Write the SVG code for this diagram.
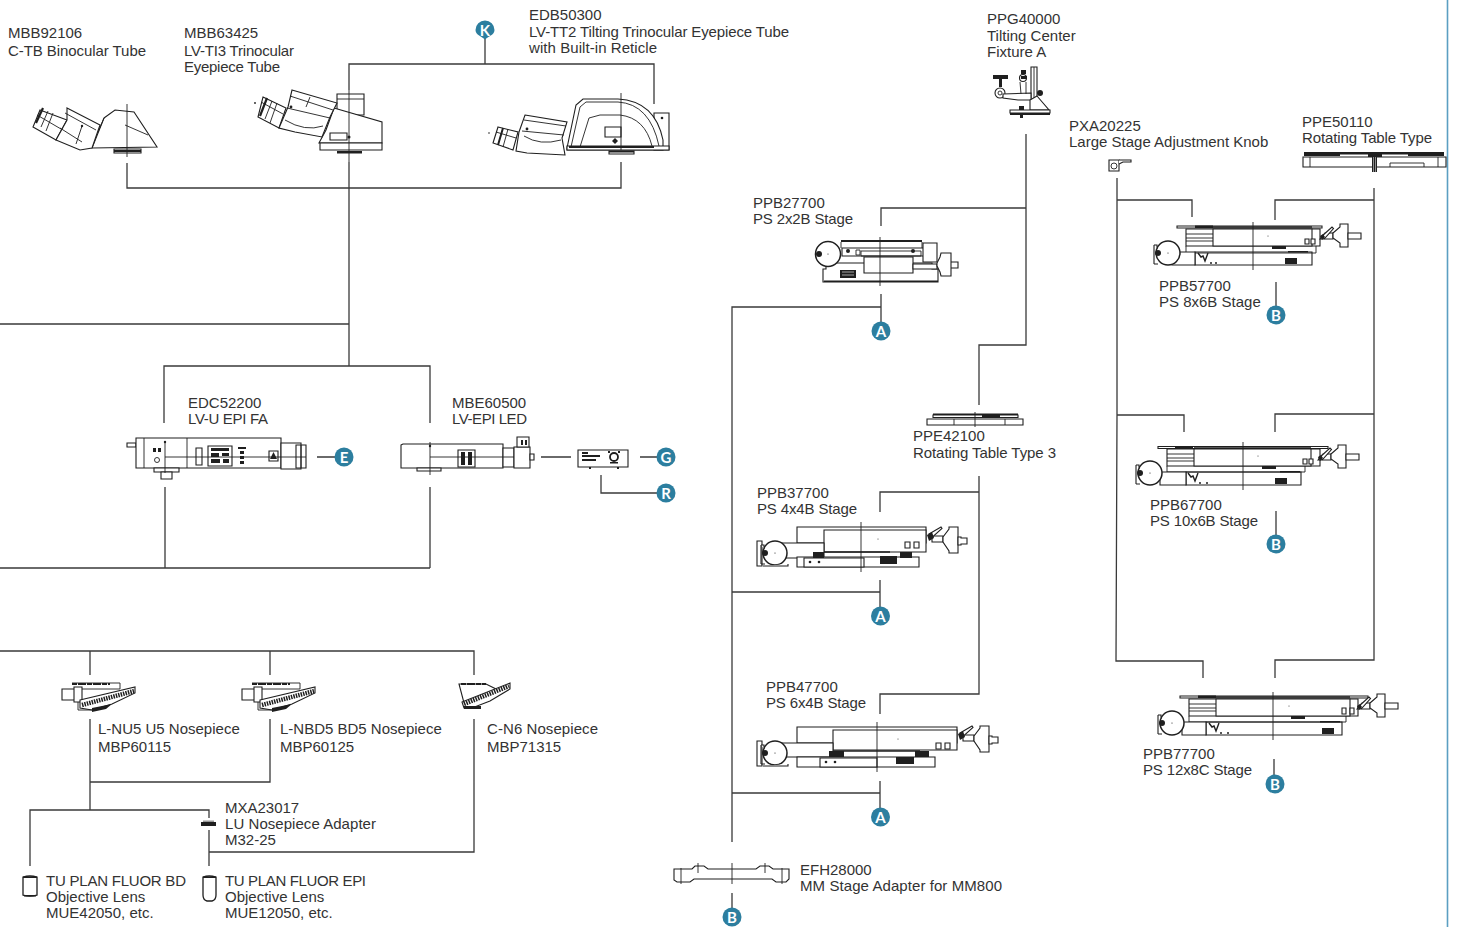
<svg xmlns="http://www.w3.org/2000/svg" width="1459" height="927" viewBox="0 0 1459 927">
<style>
text{font-family:"Liberation Sans",Arial,sans-serif;font-size:15px;fill:#333}
.c{fill:none;stroke:#3a3a3a;stroke-width:1.3}
.d{fill:#fff;stroke:#1f1f1f;stroke-width:1.100}
.l{fill:none;stroke:#1f1f1f;stroke-width:.9}
.k{fill:#1f1f1f;stroke:none}
.x{fill:none;stroke:#1f1f1f;stroke-width:.9}
.b{fill:#2c7e9f}
.bt{font-family:Lato,"Open Sans",sans-serif;font-size:15px;font-weight:700;fill:#fff;text-anchor:middle}
</style>
<defs>
<g id="roller"><circle class="d" cx="0" cy="0" r="12" style="stroke-width:1.500"/><circle class="k" cx="-10" cy="0" r="3"/><circle class="k" cx="0" cy="0" r=".6"/><path class="d" d="M-14-8h3v4M-14 11h4M-14-8V11"/></g>
<g id="knobL"><path class="d" d="M-2 6L3 0H11V6H1z"/><path class="d" d="M-1 4L10-6l1.500 1.500-9 10z"/><path class="k" d="M-2 3l3-2 2 3-3 3z"/><path class="d" d="M11 0L18-6V-9H26V14H18V10L11 5Z"/><path class="d" d="M26 0h13v6H26z"/></g>
<g id="knobS"><path class="d" d="M5 -1H16V5H5z"/><path class="d" d="M2-3L14-10l1 1.500-10 9z"/><path class="k" d="M0-2l5-3 2 6-5 3z"/><path class="d" d="M16 0L22-8V-10H31V16H22V14L16 5Z"/><path class="d" d="M31 0h3v1h6v6h-6v1h-3z"/></g>
<g id="nose"><path class="d" d="M0 3h12v11H0zM12 1h8v15H12z"/><path class="l" d="M10-3H58v6M20 3H58"/><path d="M10-2H48" stroke="#1f1f1f" stroke-width="1.800" stroke-dasharray="5 1 8 1"/><path class="d" d="M18 14L73 1V7L50 18 30 24 18 22z"/><path d="M20 19L72 5" fill="none" stroke="#1f1f1f" stroke-width="4.500" stroke-dasharray="1.500 1"/><path class="l" d="M16 16V24H30"/><path class="k" d="M30 22l20-4-6 5-14 3z"/></g>
</defs>

<g id="connectors">
<path class="c" d="M485 38V64M349 90V64H654V104"/>
<path class="c" d="M127 163V188H621V162M349 162V366M0 324H349M164 423V366H430V423"/>
<path class="c" d="M165 487V568M430 487V568M0 568H430"/>
<path class="c" d="M0 651H474V675M90 651V675M270 651V675"/>
<path class="c" d="M90 719V810M90 782H270V719M474 719V852H209M30 866V810H209V818M209 830V866"/>
<path class="c" d="M317 457H335M541 457H571M640 457H658M601 475V493H658"/>
<path class="c" d="M1026 134V345H979V405M1026 208H881V226M881 294V322M881 307H732V842"/>
<path class="c" d="M979 476V694H880V714M979 492H880V512M880 580V608M880 592H732M880 781V808M880 793H732M732 893V908"/>
<path class="c" d="M1117 178V415L1116 661H1203V678M1117 200H1192V217M1117 415H1184V432"/>
<path class="c" d="M1374 188V660H1275V678M1374 200H1275V220M1374 414H1275V432"/>
<path class="c" d="M1276 282V306M1276 511V535M1274 759V776"/>
</g>
<path d="M1447.500 0V927" fill="none" stroke="#5b9fc2" stroke-width="1.600"/>

<g id="n-mbb92106">
<path class="d" d="M104 118L115 110 134 112 157 147 92 148Z"/>
<path class="l" d="M98 132L104 118M125 125L148 135"/>
<path class="d" d="M114 149h27v4h-27z"/><path class="k" d="M114 150h27v2h-27z"/>
<path class="d" d="M40 110L67 120 56 140 33 127Z"/><path class="l" d="M37 115l24 14M48 111l-7 16M53 113l-7 18"/><path d="M43 108l-7 15" stroke="#1f1f1f" stroke-width="2.200"/>
<path class="d" d="M67 108L100 125 92 148 80 150 56 140 67 120Z"/><path class="l" d="M65 113L96 130M60 128L82 142M82 126l-6 18"/><circle class="k" cx="82" cy="126" r="1.200"/>
<path class="x" d="M127 104V157"/>
<text x="8" y="38">MBB92106</text><text x="8" y="56" textLength="138">C-TB Binocular Tube</text>
</g>

<g id="n-mbb63425">
<path class="d" d="M337 94H364V115H337z"/><path class="l" d="M337 99H364"/>
<path class="d" d="M334 108L382 122V143H319L326 130Z"/>
<path class="d" d="M320 143H382V150H320z"/>
<path class="k" d="M337 151h25v2.500h-25z"/>
<path class="d" d="M330 133h17v7h-17z"/><circle class="k" cx="349" cy="137" r="1.500"/>
<path class="d" d="M263 97L286 108 279 128 258 117Z"/><path class="l" d="M261 102L283 114M272 101l-7 18M277 103l-7 20"/><path d="M267 98l-7 18" stroke="#1f1f1f" stroke-width="2.200"/><circle class="k" cx="255" cy="103" r=".9"/>
<path class="d" d="M292 90L337 103 330 117 322 137 295 132 279 128 288 107Z"/><path class="l" d="M290 96L333 110M287 108L330 118M285 120q20 12 38 6M310 97l-4 10"/><circle class="k" cx="291" cy="107" r="1.400"/>
<path class="x" d="M349 90V162"/>
<text x="184" y="38">MBB63425</text><text x="184" y="56" textLength="110">LV-TI3 Trinocular</text><text x="184" y="72" textLength="96">Eyepiece Tube</text>
</g>

<g id="n-edb50300">
<path class="d" d="M654 113H669V150H654z"/><circle class="k" cx="662" cy="118" r="1.300"/>
<path class="d" d="M567 148L576 105 583 99H618Q655 101 663 140V150H567Z"/>
<path class="l" d="M571 147L580 107 586 102H618Q650 104 659 146M580 147L589 118 600 115H620Q645 118 652 146"/>
<path class="d" d="M567 146H669V150H567z"/><path class="k" d="M569 146h85v2h-85z"/>
<path class="d" d="M605 127h16v10h-16z"/><path class="k" d="M615 138l3 3-3 3-3-3z"/>
<path class="d" d="M609 151h25v3h-25z"/><path class="k" d="M609 151h25v1.500h-25z"/>
<path class="d" d="M498 127L518 132 513 150 493 143Z"/><path class="l" d="M496 132l20 6M508 129l-5 18"/><path d="M503 128l-5 17" stroke="#1f1f1f" stroke-width="2"/><circle class="k" cx="489" cy="133" r=".8"/>
<path class="d" d="M525 115L567 122 562 138 565 155 527 153 516 151 519 132Z"/><path class="l" d="M524 120L566 126M522 131L564 135M524 136q16 10 37 4"/><circle class="k" cx="527" cy="129" r="1.400"/>
<path class="x" d="M621 93V150"/>
<text x="529" y="20">EDB50300</text><text x="529" y="37" textLength="260">LV-TT2 Tilting Trinocular Eyepiece Tube</text><text x="529" y="53" textLength="128">with Built-in Reticle</text>
</g>

<g id="n-ppg40000">
<path class="d" d="M1031 67h6v40h-6z"/><path class="l" d="M1034 67v40"/>
<path class="k" d="M993 75h15v4h-15zM999 79h3v8h-3z"/>
<circle class="d" cx="1000" cy="93" r="5"/><circle class="l" cx="1000" cy="93" r="2"/>
<path class="d" d="M1003 94L1031 93V100H1018L1003 98Z"/>
<circle class="d" cx="1023" cy="78" r="3.500"/><path class="k" d="M1021 70h5v4h-5zM1021 76h6v3h-6z"/>
<path class="l" d="M1020 82l1 12M1026 82v12"/>
<circle class="k" cx="1040" cy="93" r="3"/>
<path class="d" d="M1037 96L1049 110H1030V100Z"/>
<path class="k" d="M1019 106h5v4h-5z"/>
<path class="d" d="M1010 110h40v3h-40z"/><path class="k" d="M1010 113h40v2h-40zM1020 113h3v5h-3z"/>
<text x="987" y="24">PPG40000</text><text x="987" y="41">Tilting Center</text><text x="987" y="57">Fixture A</text>
</g>

<g id="n-pxa20225">
<path class="d" d="M1109 160h10v11h-10z"/><circle class="l" cx="1114" cy="166" r="3"/><path class="d" d="M1119 160h12v2h-8l-4 2"/>
<text x="1069" y="131">PXA20225</text><text x="1069" y="147">Large Stage Adjustment Knob</text>
</g>

<g id="n-ppe50110">
<path class="d" d="M1303 157h143v10h-143z"/><path class="l" d="M1310 157v10M1438 157v10M1390 167v-4h34v4"/>
<path class="k" d="M1304 152h140v2.500h-140zM1304 154h36v2h-36zM1408 154h36v2h-36zM1368 154h14v3h-14z"/>
<path class="k" d="M1372 157h5v15h-5z"/><path d="M1373.500 157v15M1375.500 157v15" stroke="#fff" stroke-width=".5"/>
<text x="1302" y="127">PPE50110</text><text x="1302" y="143" textLength="130">Rotating Table Type</text>
</g>

<g id="n-ppe42100">
<path class="d" d="M927 419h96v6h-96z"/><path class="l" d="M954 419v6M1005 419v6"/>
<path class="d" d="M933 415h85v2.500h-85z"/><path class="k" d="M933 413.500h85v1.500h-85zM982 415h18v3h-18z"/>
<path class="x" d="M975 412V427"/>
<text x="913" y="441">PPE42100</text><text x="913" y="458" textLength="143">Rotating Table Type 3</text>
</g>

<g id="n-ppb27700">
<path class="d" d="M842 248H930V256H842z"/>
<path class="k" d="M841 240h81v2h-81z"/>
<path class="l" d="M841 242v6M922 242v6M856 250h4v5h-4zM861 251h60v5h-60z"/>
<path class="d" d="M923 243h14v19h-14z"/>
<path class="d" d="M823 269H826V263H932V269H938V282H823z"/>
<path class="k" d="M824 280.500h114v1.500h-114z"/>
<path class="d" d="M864 257h49v16h-49z"/><path class="d" d="M913 264h24v5h-24z"/>
<circle class="k" cx="848" cy="251" r="2"/><circle class="k" cx="913" cy="251" r="2"/>
<path class="k" d="M840 270h16v8h-16z"/><path d="M842 272h12M842 275h12" stroke="#fff" stroke-width=".6"/>
<circle class="d" cx="828" cy="254" r="12.500" style="stroke-width:1.500"/><circle class="k" cx="819" cy="254" r="3"/><circle class="k" cx="828" cy="254" r=".6"/>
<path class="d" d="M937 263l3 -6 1-4h10v23h-10l-1-4-3-6zM951 262h7v6h-7z"/>
<path class="x" d="M880 237V286"/>
<text x="753" y="208">PPB27700</text><text x="753" y="224" textLength="100">PS 2x2B Stage</text>
</g>

<g id="n-ppb37700">
<path class="d" d="M797 527H926V543H797z"/>
<path class="d" d="M824 530H926V552H824z"/>
<path class="d" d="M780 543H824V558H780z"/>
<path class="d" d="M797 557H919V567H797z"/><path class="d" d="M804 558H864V567H804z"/>
<path class="k" d="M813 552h11v6h-11zM900 552h12v6h-12zM880 556h17v8h-17z"/><path d="M824 552H890" stroke="#1f1f1f" stroke-width="1.500"/>
<path class="d" d="M905 542h5v6h-5zM914 542h5v6h-5z"/>
<circle class="k" cx="810" cy="562" r="1.300"/><circle class="k" cx="819" cy="562" r="1.300"/><circle class="k" cx="878" cy="539" r=".5"/>
<path class="d" d="M757 541h5v25h-5z"/><use href="#roller" x="775" y="553"/><path class="d" d="M763 566h25v-2"/>
<use href="#knobS" x="927" y="537"/>
<path class="x" d="M861 522V572"/>
<text x="757" y="498">PPB37700</text><text x="757" y="514" textLength="100">PS 4x4B Stage</text>
</g>

<g id="n-ppb47700">
<path class="d" d="M797 727H957V743H797z"/>
<path class="d" d="M833 730H957V750H833z"/>
<path class="d" d="M780 743H833V757H780z"/>
<path class="d" d="M797 757H935V767H797z"/><path class="d" d="M820 758H877V767H820z"/>
<path class="k" d="M829 751h15v6h-15zM915 751h14v6h-14zM896 757h18v7h-18z"/><path d="M833 751H920" stroke="#1f1f1f" stroke-width="1.500"/>
<path class="d" d="M936 743h5v6h-5zM945 743h5v6h-5z"/>
<circle class="k" cx="826" cy="762" r="1.300"/><circle class="k" cx="835" cy="762" r="1.300"/><circle class="k" cx="898" cy="739" r=".5"/>
<path class="d" d="M757 741h5v25h-5z"/><use href="#roller" x="775" y="753"/><path class="d" d="M763 766h25v-2"/>
<use href="#knobS" x="958" y="736"/>
<path class="x" d="M877 722V772"/>
<text x="766" y="692">PPB47700</text><text x="766" y="708" textLength="100">PS 6x4B Stage</text>
</g>

<g id="n-ppb57700">
<path class="d" d="M1186 229H1320V246H1186z"/><path class="d" d="M1213 229H1312V246H1213z"/>
<path class="l" d="M1186 234H1213M1186 238H1213M1186 241H1213"/>
<path class="d" d="M1177 226h145v2h-145z"/><path class="k" d="M1195 225.500h18v2.500h-18z"/><path d="M1213 227H1312" stroke="#1f1f1f" stroke-width="1.400"/>
<path class="d" d="M1195 252H1312V265H1195z"/><path d="M1186 246V253H1316V246" class="l"/>
<path class="d" d="M1172 252H1195V265H1172z"/>
<path d="M1198 253l3 4 2-1 2 5 3-8" fill="none" stroke="#1f1f1f" stroke-width="1.400"/>
<path class="k" d="M1285 258h12v6h-12zM1288 251h20v1.500h-20zM1272 246h14v3h-14z"/><circle class="k" cx="1211" cy="263" r="1"/><circle class="k" cx="1216" cy="263" r="1"/>
<path class="d" d="M1305 239h4v5h-4zM1311 239h4v5h-4z"/><circle class="k" cx="1268" cy="236" r=".5"/>
<use href="#roller" x="1168" y="253"/>
<use href="#knobL" x="1322" y="233"/>
<path class="x" d="M1253 222V270"/>
<text x="1159" y="291">PPB57700</text><text x="1159" y="307">PS 8x6B Stage</text>
</g>

<g id="n-ppb67700">
<path class="d" d="M1167 449H1320V466H1167z"/><path class="d" d="M1194 449H1311V466H1194z"/>
<path class="l" d="M1167 454H1194M1167 458H1194M1167 461H1194"/>
<path class="d" d="M1158 446.500h170v2h-170z"/><path class="k" d="M1175 446h18v2.500h-18z"/><path d="M1194 448H1311" stroke="#1f1f1f" stroke-width="1.400"/>
<path class="d" d="M1186 472H1301V485H1186z"/><path d="M1167 466V472H1305V466" class="l"/>
<path class="d" d="M1160 472H1186V485H1160z"/>
<path d="M1188 473l3 4 2-1 2 5 3-8" fill="none" stroke="#1f1f1f" stroke-width="1.400"/>
<path class="k" d="M1275 478h12v6h-12zM1280 471h20v1.500h-20zM1262 466h14v3h-14z"/><circle class="k" cx="1200" cy="483" r="1"/><circle class="k" cx="1207" cy="483" r="1"/>
<path class="d" d="M1303 459h4v5h-4zM1309 459h4v5h-4z"/><circle class="k" cx="1258" cy="456" r=".5"/>
<use href="#roller" x="1150" y="473"/>
<use href="#knobL" x="1320" y="454"/>
<path class="x" d="M1243 442V490"/>
<text x="1150" y="510">PPB67700</text><text x="1150" y="526" textLength="108">PS 10x6B Stage</text>
</g>

<g id="n-ppb77700">
<path class="d" d="M1189 699H1358V716H1189z"/><path class="d" d="M1216 699H1350V716H1216z"/>
<path class="l" d="M1189 704H1216M1189 708H1216M1189 711H1216"/>
<path class="d" d="M1180 696h188v2h-188z"/><path class="k" d="M1198 695.500h18v2.500h-18z"/><path d="M1216 697H1350" stroke="#1f1f1f" stroke-width="1.400"/>
<path class="d" d="M1206 722H1342V735H1206z"/><path d="M1189 716V722H1346V716" class="l"/>
<path class="d" d="M1182 722H1206V735H1182z"/>
<path d="M1209 723l3 4 2-1 2 5 3-8" fill="none" stroke="#1f1f1f" stroke-width="1.400"/>
<path class="k" d="M1322 728h12v6h-12zM1320 721h20v1.500h-20zM1291 716h14v3h-14z"/><circle class="k" cx="1221" cy="733" r="1"/><circle class="k" cx="1228" cy="733" r="1"/>
<path class="d" d="M1342 708h4v6h-4zM1350 708h4v6h-4z"/><circle class="k" cx="1289" cy="706" r=".5"/>
<use href="#roller" x="1172" y="723"/>
<use href="#knobL" x="1359" y="703"/>
<path class="x" d="M1273 692V740"/>
<text x="1143" y="759">PPB77700</text><text x="1143" y="775" textLength="109">PS 12x8C Stage</text>
</g>

<g id="n-efh28000">
<path class="d" d="M674 869H692L695 866H704L708 869H756L760 866H769L773 869H789V879L786 882H776L772 879H694L690 882H677L674 880Z"/>
<path class="x" d="M698 863V873M765 863V873M732 863V884M681 868V884M782 868V884"/>
<text x="800" y="875">EFH28000</text><text x="800" y="891" textLength="202">MM Stage Adapter for MM800</text>
</g>

<g id="n-edc52200">
<path class="d" d="M127 443h9v4h-9z"/>
<path class="d" d="M136 438H281V468H136z"/><path class="l" d="M144 438V468M187 438V468"/>
<path class="d" d="M281 443H301V469H281z"/><path class="d" d="M296 445H306V468H296z"/><path d="M301 445V468" stroke="#1f1f1f" stroke-width="1.500"/>
<path class="d" d="M154 468H179V472H154z"/><path class="d" d="M161 472H172V479H161z"/>
<path class="d" d="M208 446H232V466H208z"/><path class="k" d="M211 448h18v3h-18zM211 453h8v4h-8zM222 453h7v3h-7zM211 459h9v4h-9zM223 459h6v4h-6z"/>
<path class="d" d="M196 448h6v17h-6z"/>
<path class="k" d="M238 447h8v2h-8zM240 451h4v3h-4zM240 456h4v3h-4zM240 461h4v3h-4zM153 448h3v4h-3zM158 448h3v4h-3z"/>
<circle class="l" cx="157" cy="460" r="2.500"/>
<path class="d" d="M269 451h9v10h-9z"/><path class="k" d="M273.500 452l3.500 7h-7z"/>
<path class="x" d="M165 442V473M165 457H306"/><circle class="k" cx="165" cy="442" r="1.200"/>
<text x="188" y="408">EDC52200</text><text x="188" y="424" textLength="80">LV-U EPI FA</text>
</g>

<g id="n-mbe60500">
<path class="d" d="M401 445L403 444H503V468H401z"/>
<path class="d" d="M417 468H441V471H417z"/>
<path class="d" d="M503 448H514V467H503z"/><path class="d" d="M514 447H530V468H514z"/><path class="d" d="M517 437H529V447H517z"/><path class="k" d="M521 440h2v5h-2zM525 440h2v5h-2z"/><path class="d" d="M530 454h4v6h-4z"/>
<path class="d" d="M458 450H475V467H458z"/><path class="k" d="M461 452h4v13h-4zM468 452h4v13h-4z"/>
<path class="x" d="M430 442V475M430 457H514"/><circle class="k" cx="430" cy="446" r="1.200"/>
<text x="452" y="408">MBE60500</text><text x="452" y="424" textLength="75">LV-EPI LED</text>
</g>

<g id="n-mbe-controller">
<path class="d" d="M578 450H628V467H578z"/>
<path class="k" d="M582 452h6v2h-6zM582 455h18v2h-18zM582 459h14v2h-14zM589 467h2v2h-2zM617 467h2v2h-2z"/>
<circle fill="#fff" stroke="#1f1f1f" stroke-width="1.800" cx="614" cy="457" r="4"/><path class="k" d="M608 451h2v2h-2zM618 451h2v2h-2zM610 462h8v1.500h-8z"/>
</g>

<g id="n-nose1"><use href="#nose" x="62" y="686"/>
<text x="98" y="734">L-NU5 U5 Nosepiece</text><text x="98" y="752">MBP60115</text></g>
<g id="n-nose2"><use href="#nose" x="242" y="686"/>
<text x="280" y="734">L-NBD5 BD5 Nosepiece</text><text x="280" y="752">MBP60125</text></g>
<g id="n-nose3">
<path class="d" d="M459 684H486L498 690 470 700 464 703Z"/><path d="M461 684H486" stroke="#1f1f1f" stroke-width="1.800" stroke-dasharray="5 1 8 1"/>
<path class="d" d="M462 702L510 683V689L490 701 472 708H464Z"/><path d="M464 704L509 686" fill="none" stroke="#1f1f1f" stroke-width="4.500" stroke-dasharray="1.500 1"/><path class="k" d="M464 706h17v3h-17z"/>
<text x="487" y="734" textLength="111">C-N6 Nosepiece</text><text x="487" y="752">MBP71315</text></g>

<g id="n-mxa23017"><path class="k" d="M201 822h15v4h-15z"/><path fill="#999" d="M203 820.500h11v1.500h-11z"/>
<text x="225" y="813">MXA23017</text><text x="225" y="829" textLength="151">LU Nosepiece Adapter</text><text x="225" y="845">M32-25</text></g>
<g id="n-lens-bd"><path class="d" d="M23 877q7-2 14 0V895q-7 2-14 0z" style="stroke-width:1.300"/><path class="k" d="M23 876.500h14v1.500h-14zM24 895h12v1.500h-12z"/>
<text x="46" y="886" textLength="140">TU PLAN FLUOR BD</text><text x="46" y="902">Objective Lens</text><text x="46" y="918">MUE42050, etc.</text></g>
<g id="n-lens-epi"><path class="d" d="M203 877q6-2 13 0V895q0 5-4 6h-5q-4-1-4-6z" style="stroke-width:1.300"/><path class="k" d="M203 876.500h13v1.500h-13z"/>
<text x="225" y="886" textLength="141">TU PLAN FLUOR EPI</text><text x="225" y="902">Objective Lens</text><text x="225" y="918">MUE12050, etc.</text></g>

<g id="badges">
<path class="b" d="M485 39.500c-3-3-9.500-4.500-9.500-9.500a9.500 9.500 0 0 1 19 0c0 5-6.500 6.500-9.500 9.500z"/><text class="bt" x="485" y="35.500">K</text>
<circle class="b" cx="344" cy="457" r="9.500"/><text class="bt" x="344" y="462.500">E</text>
<circle class="b" cx="666" cy="457" r="9.500"/><text class="bt" x="666" y="462.500">G</text>
<circle class="b" cx="666" cy="493" r="9.500"/><text class="bt" x="666" y="498.500">R</text>
<circle class="b" cx="881" cy="331" r="9.500"/><text class="bt" x="881" y="336.500">A</text>
<circle class="b" cx="880.500" cy="616" r="9.500"/><text class="bt" x="880.500" y="621.500">A</text>
<circle class="b" cx="880.500" cy="817" r="9.500"/><text class="bt" x="880.500" y="822.500">A</text>
<circle class="b" cx="732" cy="917" r="9.500"/><text class="bt" x="732" y="922.500">B</text>
<circle class="b" cx="1276" cy="315" r="9.500"/><text class="bt" x="1276" y="320.500">B</text>
<circle class="b" cx="1276" cy="544" r="9.500"/><text class="bt" x="1276" y="549.500">B</text>
<circle class="b" cx="1275" cy="784" r="9.500"/><text class="bt" x="1275" y="789.500">B</text>
</g>
</svg>
